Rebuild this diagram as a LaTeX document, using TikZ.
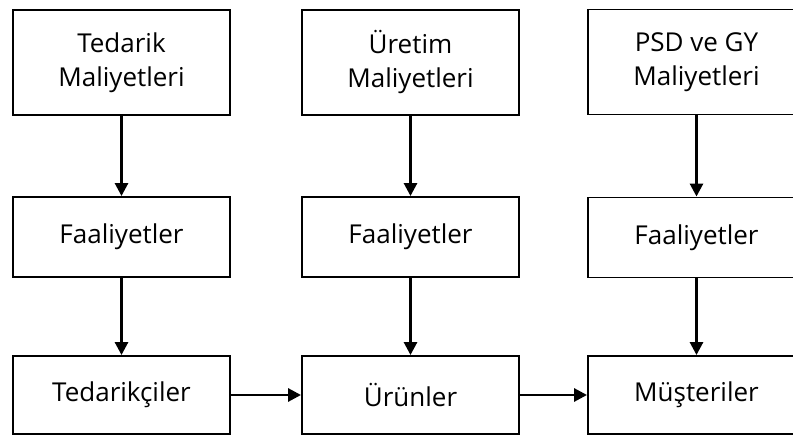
\documentclass[tikz,border=0pt]{standalone}
\usepackage{fontspec}
\setmainfont{Open Sans}
\usetikzlibrary{arrows.meta}
\begin{document}
\begin{tikzpicture}[x=1pt,y=-1pt,
  box/.style={draw=black,line width=1.9pt,minimum width=217pt,inner sep=0pt,
    align=center,font=\fontsize{26}{34}\selectfont},
  tall/.style={box,minimum height=105pt},
  mid/.style={box,minimum height=80pt},
  low/.style={box,minimum height=78pt},
  flow/.style={line width=2.8pt,-{Triangle[length=13pt,width=13pt]}}]
\clip (0,0) rectangle (793,435);
\useasboundingbox (0,0) rectangle (793,435);
% cost pools
\node[tall] (c1) at (121.5,62.5) {Tedarik\\Maliyetleri};
\node[tall] (c2) at (410.5,62.5) {Üretim\\Maliyetleri};
\node[tall] (c3) at (696.5,62) {PSD ve GY\\Maliyetleri};
% activities
\node[mid] (a1) at (121.5,237) {Faaliyetler};
\node[mid] (a2) at (410.5,237) {Faaliyetler};
\node[mid] (a3) at (696.5,237.5) {Faaliyetler};
% cost objects
\node[low] (o1) at (121.5,395) {Tedarikçiler};
\node[low] (o2) at (410.5,395) {Ürünler};
\node[low] (o3) at (696.5,395) {Müşteriler};
% connectors
\foreach \i in {1,2,3}{
  \draw[flow] (c\i.south) -- (a\i.north);
  \draw[flow] (a\i.south) -- (o\i.north);
}
\draw[flow] (o1.east) -- (o2.west);
\draw[flow] (o2.east) -- (o3.west);
\end{tikzpicture}
\end{document}
